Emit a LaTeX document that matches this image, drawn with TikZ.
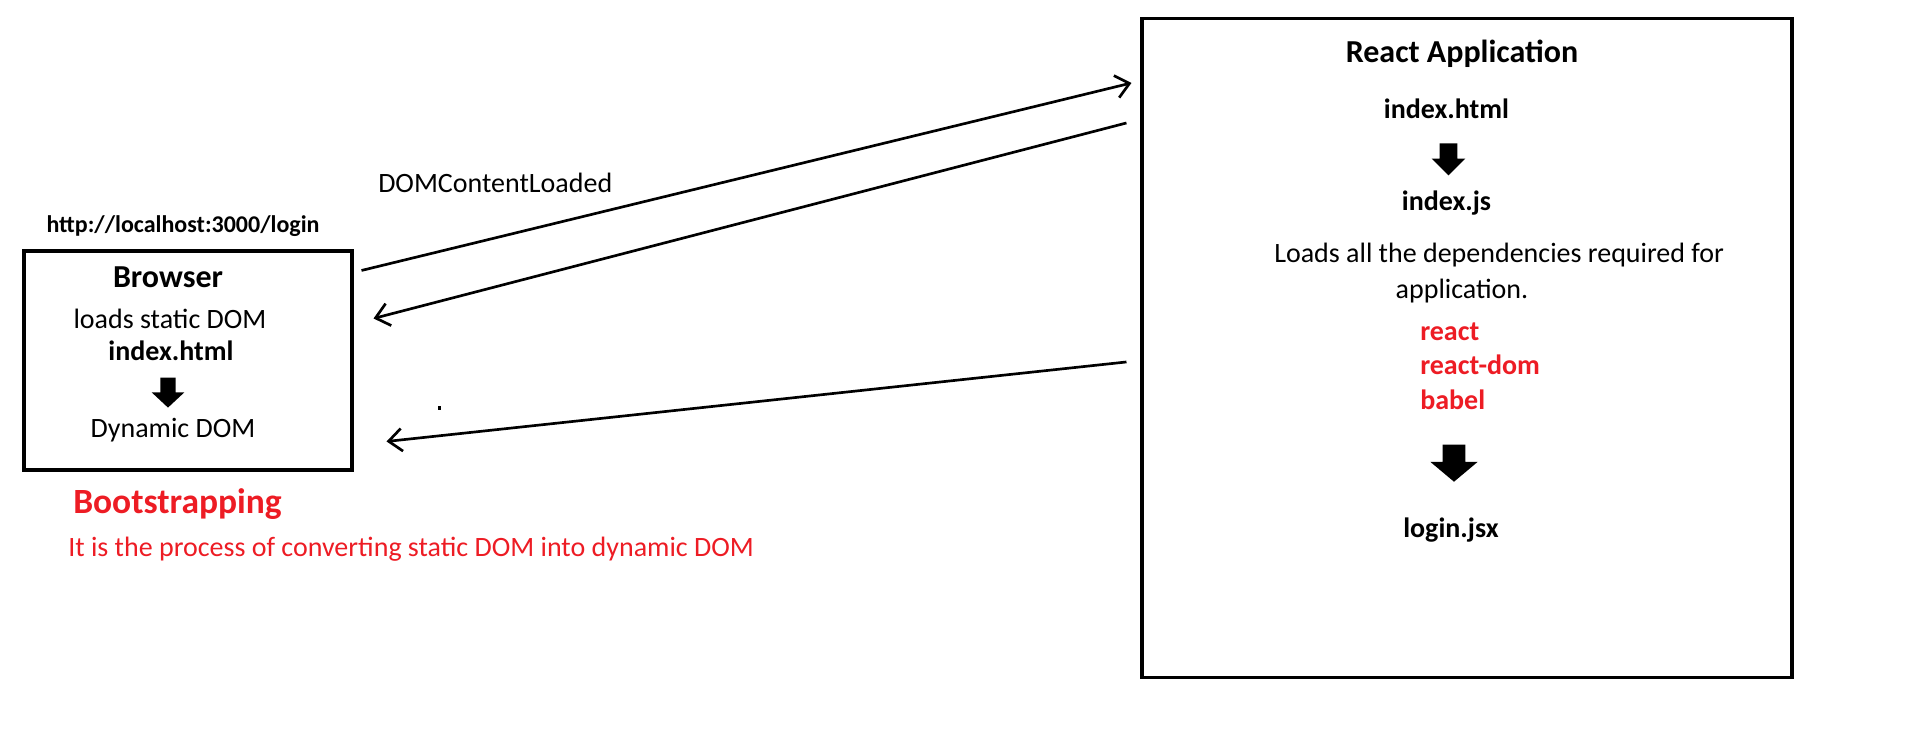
\documentclass[tikz,border=0pt]{standalone}
\usepackage{fontspec}
\setmainfont{Carlito}
\usepackage{xcolor}
\usetikzlibrary{arrows.meta,shapes.arrows}
\definecolor{paintred}{HTML}{ED1C24}

\begin{document}
\begin{tikzpicture}[
  x=0.75pt, y=-0.75pt,
  frame/.style={draw,line width=2.3pt,inner sep=0pt},
  txt/.style={inner sep=0pt,text height=17pt,text depth=2pt,font=\fontsize{21}{25}\selectfont},
  txtb/.style={txt,font=\fontsize{21}{25}\selectfont\bfseries},
  title/.style={txt,font=\fontsize{24}{28}\selectfont\bfseries},
  dep/.style={txtb,text=paintred,anchor=west},
  down/.style={single arrow,fill=black,draw=none,shape border rotate=270},
  line/.style={-{Straight Barb[length=10pt,width=17pt]},line width=2pt}
]
\useasboundingbox (0,0) rectangle (1914,752);
% browser side
\node[frame,minimum width=246pt,minimum height=164.25pt] (browser) at (188,360.5) {};
\node[txtb,font=\fontsize{18}{22}\selectfont\bfseries] (url) at (183,223) {http://localhost:3000/login};
\node[title] (btitle) at (168,278) {Browser};
\node[txt] (static) at (170,319) {loads static DOM};
\node[txtb] (bindex) at (171,350) {index.html};
\node[down,inner sep=5.6pt,minimum height=22.5pt,single arrow head extend=6.4pt,single arrow tip angle=94] (barrow) at (168,389) {};
\node[txt] (dynamic) at (173,427) {Dynamic DOM};
\node[title,anchor=west,text=paintred,font=\fontsize{26.6}{30}\selectfont\bfseries] (boot) at (73,503) {Bootstrapping};
\node[txt,anchor=west,text=paintred] (bootdesc) at (68,546) {It is the process of converting static DOM into dynamic DOM};
\node[txt,anchor=west] (event) at (378,183) {DOMContentLoaded};
% react side
\node[frame,minimum width=487.5pt,minimum height=494.25pt] (app) at (1467,348) {};
\node[title] (atitle) at (1462,52.5) {React Application};
\node[txtb] (aindex) at (1446.5,109) {index.html};
\node[down,inner sep=6.4pt,minimum height=24pt,single arrow head extend=6pt,single arrow tip angle=90] (aarrow) at (1448.5,155) {};
\node[txtb] (ajs) at (1446.5,201) {index.js};
\node[txt,anchor=west] (loads) at (1274,253) {Loads all the dependencies required for};
\node[txt] (loads2) at (1462,289) {application.};
\node[dep] (react) at (1420,330) {react};
\node[dep] (reactdom) at (1420,364) {react-dom};
\node[dep] (babel) at (1420,399) {babel};
\node[down,inner sep=8.25pt,minimum height=27.75pt,single arrow head extend=9.25pt,single arrow tip angle=100] (larrow) at (1454,458.5) {};
\node[txtb] (login) at (1451,527) {login.jsx};
% requests
\draw[line] ([shift={(8,21)}]browser.north east) -- ([shift={(-9,66)}]app.north west);
\draw[line] ([shift={(-14,106)}]app.north west) -- ([shift={(20,69)}]browser.north east);
\draw[line] ([shift={(-14,345)}]app.north west) -- ([shift={(33,192)}]browser.north east);
\fill (438,406) rectangle (441,410);
\end{tikzpicture}
\end{document}
